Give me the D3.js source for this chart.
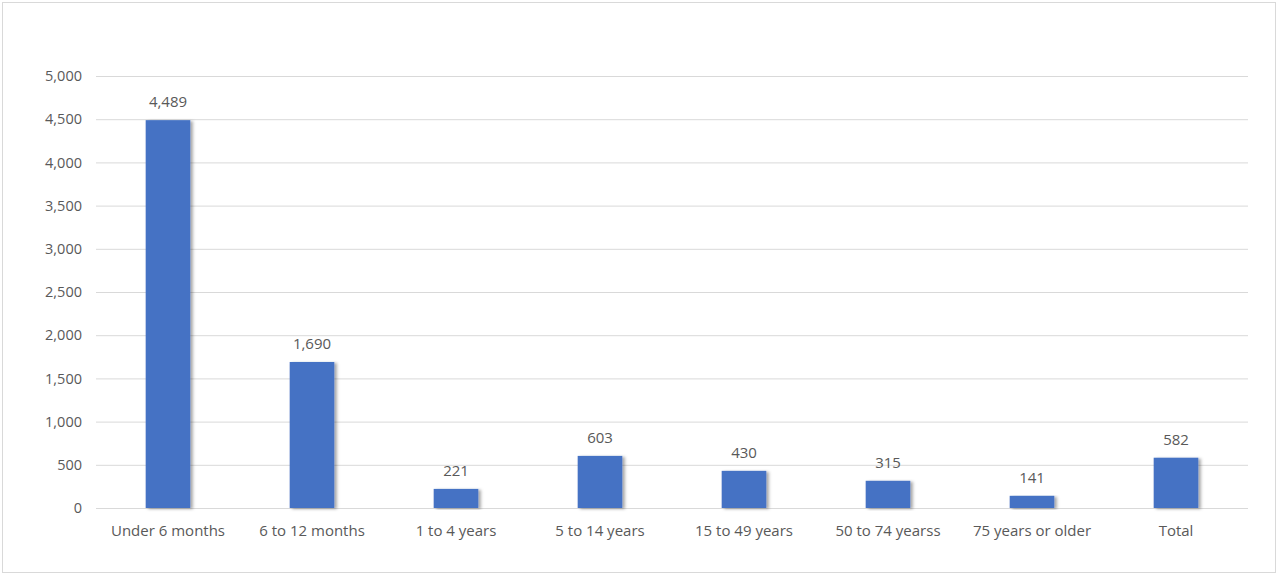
<!DOCTYPE html>
<html><head><meta charset="utf-8">
<script src="https://cdn.jsdelivr.net/npm/d3@7"></script>
<style>
html,body{margin:0;padding:0;background:#fff;}
svg{display:block;}
text{font-family:"Open Sans","Noto Sans",sans-serif;fill:#595959;}
</style></head>
<body>
<script>
const categories = ["Under 6 months","6 to 12 months","1 to 4 years","5 to 14 years","15 to 49 years","50 to 74 yearss","75 years or older","Total"];
const values = [4489,1690,221,603,430,315,141,582];
const yTicks = [0,500,1000,1500,2000,2500,3000,3500,4000,4500,5000];

const W = 1280, H = 586;
const svg = d3.select("body").append("svg").attr("width", W).attr("height", H);

const defs = svg.append("defs");
const f = defs.append("filter").attr("id","shadow").attr("x","-20%").attr("y","-5%").attr("width","150%").attr("height","115%");
f.append("feDropShadow").attr("dx",2.5).attr("dy",1).attr("stdDeviation",1.8).attr("flood-color","#000").attr("flood-opacity",0.35);

svg.append("rect").attr("x",2.5).attr("y",2.5).attr("width",1273).attr("height",570)
  .attr("fill","#fff").attr("stroke","#d9d9d9").attr("stroke-width",1);

const m = {left:96, right:1248, top:76, bottom:508};
const x = d3.scaleBand().domain(categories).range([m.left, m.right]).paddingInner(0.69).paddingOuter(0.345);
const y = d3.scaleLinear().domain([0,5000]).range([m.bottom, m.top]);

const yAxis = d3.axisLeft(y).tickValues(yTicks).tickSize(-(m.right-m.left)).tickPadding(14).tickFormat(d3.format(","));
const gy = svg.append("g").attr("transform",`translate(${m.left},0)`).call(yAxis);
gy.select(".domain").remove();
gy.selectAll(".tick line").attr("stroke","#d9d9d9").attr("stroke-width",1);
gy.selectAll(".tick text").style("font-size","14.5px").attr("fill","#595959");

const xAxis = d3.axisBottom(x).tickSize(0).tickPadding(17);
const gx = svg.append("g").attr("transform",`translate(0,${m.bottom})`).call(xAxis);
gx.select(".domain").remove();
gx.selectAll(".tick text").style("font-size","15px").attr("fill","#595959");

svg.append("g").selectAll("rect").data(values).join("rect")
  .attr("x",(d,i)=>x(categories[i]))
  .attr("y",d=>y(d))
  .attr("width",x.bandwidth())
  .attr("height",d=>y(0)-y(d))
  .attr("fill","#4472c4")
  .attr("filter","url(#shadow)");

svg.append("g").selectAll("text").data(values).join("text")
  .attr("x",(d,i)=>x(categories[i])+x.bandwidth()/2)
  .attr("y",d=>y(d)-13)
  .attr("text-anchor","middle")
  .style("font-size","15px")
  .text(d=>d3.format(",")(d));
</script>
</body></html>
